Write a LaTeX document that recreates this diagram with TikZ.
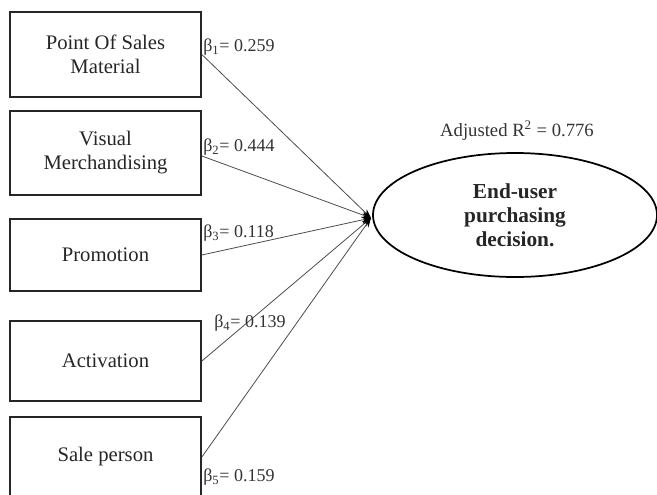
\documentclass[tikz,border=0pt]{standalone}
\usepackage{fontspec}
\setmainfont{Liberation Serif}
\usetikzlibrary{arrows.meta,shapes.geometric}
\begin{document}
\begin{tikzpicture}[x=0.75pt,y=-0.75pt,
  box/.style={draw=black!85,line width=1.3pt,minimum width=143.25pt,align=center,font=\fontsize{15.5}{18}\selectfont,inner sep=0pt,text=black!85},
  lbl/.style={anchor=west,font=\fontsize{13.5}{15}\selectfont,inner sep=0pt,text=black!80},
  link/.style={draw=black!70,line width=0.6pt,-{Stealth[length=7pt,width=5pt,black]}}]
\useasboundingbox (0,0) rectangle (657,494);
\node[box,minimum height=63.75pt] (b1) at (105.5,54.5) {Point Of Sales\\Material};
\node[box,minimum height=63pt] (b2) at (105.5,153) {Visual\\Merchandising};
\node[box,minimum height=54pt] (b3) at (105.5,255) {Promotion};
\node[box,minimum height=60pt] (b4) at (105.5,361) {Activation};
\node[box,minimum height=60pt] (b5) at (105.5,457) {Sale person};
\node[ellipse,draw=black,line width=1.3pt,minimum width=213pt,minimum height=93pt,align=center,inner sep=0pt,font=\fontsize{16}{18}\selectfont\bfseries,text=black!85] (dv) at (515,215) {End-user\\purchasing\\decision.};
\coordinate (c) at (371,218);
\node[font=\fontsize{14}{16}\selectfont,text=black!80] (r2) at (517,131) {Adjusted R\textsuperscript{2} = 0.776};
\draw[link] (b1.east) -- (c);
\draw[link] (b2.east) ++(0,3) -- (c);
\draw[link] (b3.east) -- (c);
\draw[link] (b4.east) -- (c);
\draw[link] (b5.east) -- (c);
\node[lbl] (l1) at (203,47) {β\textsubscript{1}= 0.259};
\node[lbl] (l2) at (203,147) {β\textsubscript{2}= 0.444};
\node[lbl] (l3) at (203,233) {β\textsubscript{3}= 0.118};
\node[lbl] (l4) at (214,323) {β\textsubscript{4}= 0.139};
\node[lbl] (l5) at (203,477) {β\textsubscript{5}= 0.159};
\end{tikzpicture}
\end{document}
